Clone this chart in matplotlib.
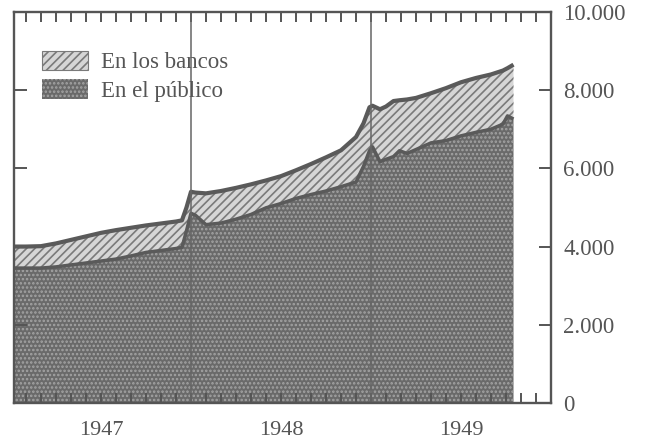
import matplotlib.pyplot as plt
import matplotlib.patches as mpatches

# months counted from 1 Jan 1947
meses = [0.2, 1.0, 2.0, 3.0, 4.0, 5.0, 6.0, 7.0, 8.0, 9.0, 10.0, 11.0, 11.4, 11.7,
         12.0, 12.3, 13.0, 14.0, 15.0, 16.0, 17.0, 18.0, 19.0, 20.0, 21.0, 22.0,
         23.0, 23.5, 23.9, 24.1, 24.6, 25.0, 25.5, 25.9, 26.4, 27.0, 28.0, 29.0,
         30.0, 31.0, 32.0, 32.8, 33.1, 33.5]
total = [4000, 4000, 4010, 4080, 4170, 4260, 4350, 4420, 4480, 4540, 4590, 4640, 4670, 5000,
         5400, 5380, 5360, 5420, 5500, 5590, 5690, 5800, 5950, 6110, 6280, 6460,
         6800, 7150, 7560, 7600, 7510, 7580, 7720, 7740, 7760, 7800, 7920, 8050,
         8200, 8310, 8400, 8500, 8560, 8650]
publico = [3450, 3450, 3450, 3480, 3530, 3580, 3630, 3680, 3760, 3850, 3900, 3950, 3980, 4400,
           4850, 4800, 4560, 4600, 4700, 4820, 4990, 5100, 5230, 5330, 5420, 5530,
           5650, 6050, 6450, 6550, 6170, 6230, 6300, 6450, 6380, 6480, 6650, 6710,
           6830, 6920, 7000, 7130, 7340, 7260]

anios = ['1947', '1948', '1949']
anio_pos = [6, 18, 30]
y_ticks = [0, 2000, 4000, 6000, 8000, 10000]
y_labels = ['0', '2.000', '4.000', '6.000', '8.000', '10.000']

gris = '#555555'
plt.rcParams['font.family'] = ['Liberation Serif', 'DejaVu Serif']
plt.rcParams['hatch.linewidth'] = 1.2

fig = plt.figure(figsize=(6.47, 4.44), dpi=100)
ax = fig.add_axes([0.0216, 0.0923, 0.83, 0.881])

bancos_style = dict(facecolor='#d6d6d6', edgecolor='#7a7a7a', hatch='////', linewidth=0)
publico_style = dict(facecolor='#6a6a6a', edgecolor='#a4a4a4', hatch='....', linewidth=0)

ax.fill_between(meses, publico, total, **bancos_style, zorder=1)
ax.fill_between(meses, 0, publico, **publico_style, zorder=1)
ax.plot(meses, total, color='#5a5a5a', lw=3.0, zorder=2, solid_capstyle='butt')
ax.plot(meses, publico, color='#5a5a5a', lw=2.5, zorder=2, solid_capstyle='butt')

for m in [12, 24]:
    ax.axvline(m, color='#666666', lw=1.1, zorder=3)

ax.set_xlim(0.2, 36)
ax.set_ylim(0, 10000)

ax.set_xticks(range(1, 36))
ax.set_xticklabels([anios[anio_pos.index(m)] if m in anio_pos else '' for m in range(1, 36)])
ax.tick_params(axis='x', direction='in', length=7, width=1.4, top=True, bottom=True,
               colors=gris, labelsize=16, pad=13)
ax.set_yticks(y_ticks)
ax.set_yticklabels(y_labels)
ax.tick_params(axis='y', direction='in', length=9, width=1.4, left=True, right=True,
               labelleft=False, labelright=True, colors=gris, labelsize=16.5, pad=9)
for s in ax.spines.values():
    s.set_color(gris)
    s.set_linewidth(1.7)
    s.set_zorder(4)

handles = [mpatches.Patch(**dict(bancos_style, linewidth=0.8), label='En los bancos'),
           mpatches.Patch(**publico_style, label='En el público')]
leg = ax.legend(handles=handles, loc='upper left', bbox_to_anchor=(0.031, 0.93),
                frameon=False, fontsize=16.5, handlelength=2.0, handleheight=0.95,
                handletextpad=0.55, labelspacing=0.25, borderpad=0)
for t in leg.get_texts():
    t.set_color(gris)

fig.savefig('out.png', dpi=100)
